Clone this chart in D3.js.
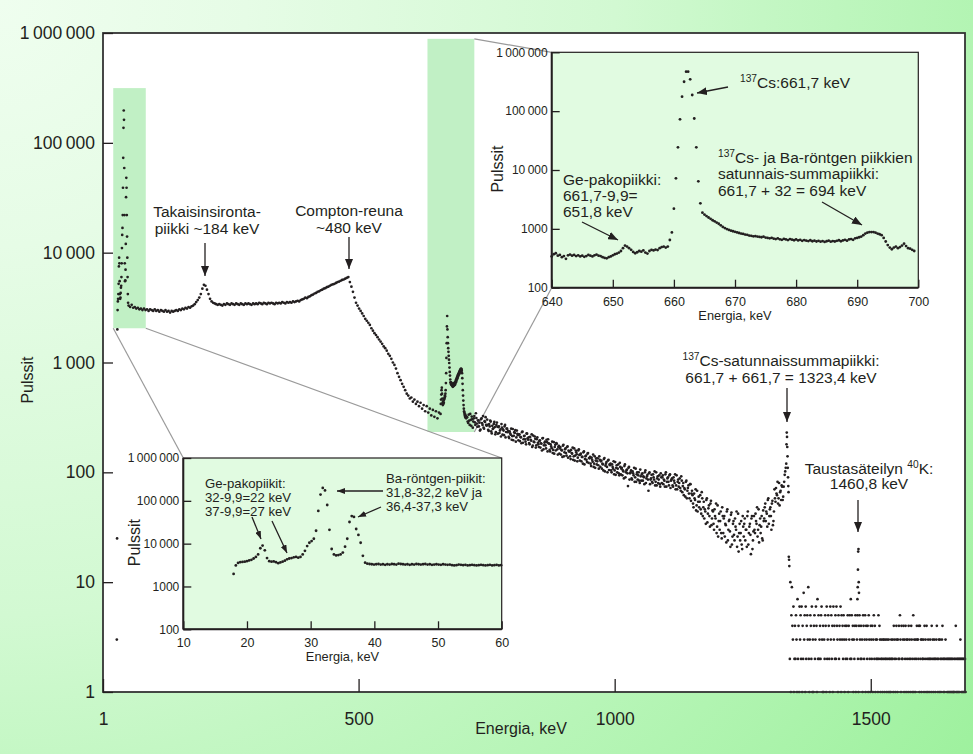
<!DOCTYPE html>
<html>
<head>
<meta charset="utf-8">
<script src="https://cdn.jsdelivr.net/npm/d3@7"></script>
<style>
  body { margin: 0; background: #fff; }
  svg { display: block; font-family: "Liberation Sans", Arial, Helvetica, sans-serif; }
</style>
</head>
<body>
<svg id="chart" width="973" height="754"></svg>
<script>
/* global d3 */

// ---------- main spectrum: energy as it sits on the printed axis (keV), counts per channel ----------
var mainXTicks = [1, 500, 1000, 1500];
var mainYTicks = [1, 10, 100, 1000, 10000, 100000, 1000000];

var lowStart = 28, lowStep = 0.5;
var lowCounts = [3, 25, 2000, 3000, 3600, 3800, 4200, 5200, 7500, 9000,
  8000, 5500, 4200, 3800, 3900, 4300, 4800, 5000, 6000, 8000,
  11000, 14500, 16800, 22000, 39000, 73000, 137000, 197000, 162000, 59000,
  22000, 8000, 5500, 5600, 7000, 12000, 32000, 48000, 39000, 22000,
  14000, 9000, 6000, 4200, 3500];

var plateauStart = 51, plateauStep = 3;
var plateauCounts = [3300, 3200, 3350, 3150, 3200, 3100, 3150, 3050, 3100, 3000,
  3100, 3000, 3050, 2950, 3050, 3000, 2950, 3050, 2950, 3000,
  2900, 3000, 2950, 2900, 3000, 2900, 2950, 2850, 2950, 2900,
  2950, 3000, 2950, 3050, 3000, 3100, 3050, 3150, 3100, 3200,
  3150, 3250, 3300, 3400, 3550, 3700, 3900, 4200, 4700, 5100,
  5000, 4600, 4200, 3800, 3600, 3500, 3450, 3400, 3350, 3400,
  3350, 3300, 3400, 3350, 3450, 3400, 3350, 3450, 3400, 3350,
  3450, 3400, 3350, 3450, 3400, 3350, 3450, 3400, 3450, 3400,
  3350, 3450, 3400, 3450, 3400, 3500, 3450, 3400, 3500, 3450,
  3400, 3500, 3450, 3500, 3450, 3400, 3500, 3450, 3500, 3450,
  3550, 3500, 3450, 3550, 3500, 3550, 3500, 3600, 3550, 3600,
  3650, 3600, 3700, 3750, 3800, 3900, 3850, 3950, 4000, 4100,
  4150, 4250, 4300, 4400, 4450, 4550, 4600, 4700, 4750, 4850,
  4900, 5000, 5100, 5150, 5200, 5300, 5400, 5450, 5550, 5650,
  5700, 5800, 5900, 6000];

var edgeStart = 483, edgeStep = 3;
var edgeCounts = [5400, 4900, 4400, 3900, 3500, 3300, 3100, 2950, 2800, 2650,
  2500, 2400, 2300, 2200, 2050, 1950, 1850, 1780, 1700, 1620,
  1550, 1480, 1400, 1350, 1280, 1200, 1150, 1080, 1000, 950,
  880, 800, 740, 690, 640, 600, 560, 520, 500, 470,
  480, 440, 460, 420, 440, 400, 430, 380, 410, 360,
  400, 350, 380, 330, 370, 320, 360, 310, 350];

var peakStart = 660, peakStep = 0.5;
var peakCounts = [340, 420, 460, 510, 560, 590, 520, 470, 430, 410,
  440, 420, 450, 430, 460, 470, 480, 500, 490, 520,
  560, 650, 800, 1100, 1500, 2130, 2650, 2000, 1700, 1500,
  1350, 1250, 1150, 1060, 990, 900, 820, 760, 700, 660,
  640, 660, 630, 650, 620, 640, 610, 630, 600, 620,
  640, 610, 630, 650, 620, 640, 660, 630, 650, 680,
  660, 700, 680, 720, 700, 740, 720, 760, 740, 780,
  760, 800, 780, 820, 800, 840, 820, 860, 840, 860,
  880, 850, 870, 840, 800, 720, 640, 560, 500, 450,
  410, 380, 360, 350, 340, 330, 320, 335, 315, 325,
  310];

// noisy continuum, even and odd channels
var bandStart = 712, bandStep = 2;
var bandCounts = [318, 282, 296, 340, 265, 305, 290, 325, 270, 312,
  260, 298, 284, 245, 310, 270, 255, 292, 318, 266,
  270, 238, 262, 290, 226, 248, 276, 258, 232, 284,
  225, 262, 240, 212, 255, 246, 218, 270, 233, 250,
  238, 205, 226, 250, 214, 196, 232, 242, 208, 224,
  196, 222, 210, 184, 235, 200, 215, 190, 226, 204,
  208, 180, 198, 222, 175, 190, 212, 168, 200, 186,
  170, 196, 184, 158, 205, 176, 190, 165, 188, 200,
  182, 155, 172, 190, 160, 148, 178, 185, 162, 170,
  148, 170, 160, 138, 178, 152, 165, 142, 172, 158,
  155, 132, 150, 168, 140, 128, 158, 146, 136, 162,
  128, 148, 138, 120, 155, 132, 142, 124, 150, 135,
  138, 114, 130, 145, 120, 110, 134, 126, 116, 140,
  112, 128, 120, 104, 135, 115, 124, 100, 130, 118,
  120, 100, 112, 126, 104, 95, 116, 108, 98, 122,
  96, 110, 104, 88, 118, 100, 106, 75, 112, 98,
  104, 86, 98, 110, 90, 82, 100, 94, 84, 106,
  84, 98, 92, 78, 104, 88, 95, 68, 100, 86,
  95, 80, 90, 102, 82, 76, 92, 86, 78, 98,
  80, 94, 86, 74, 100, 82, 90, 76, 96, 84,
  88, 74, 84, 96, 76, 70, 86, 80, 72, 92,
  66, 80, 72, 60, 84, 68, 76, 58, 78, 64,
  62, 48, 58, 70, 50, 44, 60, 54, 46, 66,
  40, 54, 46, 34, 58, 42, 50, 32, 55, 38,
  44, 30, 40, 52, 32, 26, 42, 36, 28, 48,
  28, 40, 34, 23, 46, 30, 37, 21, 43, 26,
  36, 24, 32, 44, 26, 19, 34, 28, 22, 40,
  26, 38, 30, 21, 44, 28, 34, 18, 40, 24,
  40, 28, 36, 48, 30, 23, 38, 32, 25, 45,
  38, 52, 44, 32, 58, 40, 48, 30, 55, 36,
  70, 54, 64, 82, 58, 50, 68, 76, 56, 74,
  95, 110];
var bandOddStart = 713;
var bandOddCounts = [290, 335, 270, 300, 322, 255, 310, 285, 345, 278,
  296, 262, 240, 305, 280, 325, 250, 288, 270, 302,
  244, 275, 296, 236, 265, 252, 288, 222, 270, 260,
  258, 228, 246, 275, 220, 240, 262, 208, 250, 232,
  210, 236, 220, 198, 248, 215, 228, 190, 240, 218,
  220, 192, 208, 232, 186, 214, 200, 180, 225, 198,
  185, 210, 194, 170, 216, 188, 202, 176, 208, 180,
  192, 168, 182, 204, 162, 186, 176, 198, 155, 184,
  160, 180, 166, 150, 188, 170, 158, 182, 145, 174,
  165, 145, 158, 175, 140, 162, 150, 170, 136, 155,
  140, 160, 148, 130, 165, 142, 152, 126, 158, 144,
  145, 126, 138, 152, 118, 140, 130, 148, 122, 134,
  120, 136, 125, 112, 140, 128, 118, 134, 108, 130,
  126, 108, 118, 132, 102, 120, 112, 128, 105, 116,
  104, 118, 108, 96, 124, 110, 100, 118, 94, 112,
  108, 94, 102, 114, 90, 104, 98, 110, 86, 100,
  88, 102, 94, 82, 108, 96, 86, 100, 80, 92,
  96, 84, 90, 100, 80, 92, 86, 98, 78, 88,
  82, 96, 86, 76, 100, 88, 80, 94, 74, 90,
  90, 78, 84, 96, 74, 88, 82, 94, 72, 86,
  76, 90, 80, 70, 94, 82, 74, 88, 68, 84,
  75, 62, 70, 82, 58, 72, 64, 78, 55, 68,
  52, 64, 56, 45, 68, 54, 48, 62, 42, 58,
  48, 38, 44, 56, 35, 47, 40, 52, 33, 45,
  34, 46, 38, 28, 50, 36, 30, 44, 25, 40,
  38, 26, 33, 44, 24, 36, 29, 41, 22, 34,
  27, 38, 30, 21, 42, 28, 24, 36, 20, 32,
  34, 24, 30, 40, 22, 32, 27, 38, 20, 29,
  30, 42, 34, 26, 46, 33, 28, 40, 24, 36,
  48, 36, 42, 56, 34, 46, 40, 52, 33, 44,
  58, 72, 62, 52, 80, 66, 56, 74, 60, 82,
  102];

var sumStart = 1335, sumStep = 0.5;
var sumCounts = [120, 180, 230, 210, 170, 140, 110, 90, 75, 66, 17, 16, 14];

// one character per 1 keV channel, base 36, "0" = no counts
var tailStart = 1342, tailStep = 1;
var tailCounts = ["2a15943612", "4253172416", "3526142835", "1624539213", "5426131452",
  "3641725234", "2563141325", "4162354216", "3524163425", "2643152436",
  "1534253142", "3425143527", "2534132451", "4352145324", "2315423514",
  "3241532143", "2413524132", "3215243123", "2132312321", "3213212132",
  "2314231243", "1324253142", "2341324132", "3142312431", "2513213243",
  "3241423132", "2314231421", "3212321423", "1232123421", "2313212342",
  "1212302121", "2121212121", "1212412121", "2123212121", "2121"];

var kStart = 1474, kStep = 0.5;
var kCounts = [7, 9, 13, 19, 20, 10, 8];

// ---------- inset: Ba x-ray region ----------
var baXTicks = [10, 20, 30, 40, 50, 60];
var baYTicks = [100, 1000, 10000, 100000, 1000000];
var baStart = 17.9, baStep = 0.35;
var baCounts = [1960, 3100, 3550, 3700, 3750, 3800, 3900, 4050, 4200, 4500,
  4900, 5600, 7800, 9000, 7000, 4600, 3900, 3800, 3850, 3700,
  3500, 3650, 3800, 4000, 4300, 4500, 4600, 4800, 4900, 4700,
  4900, 5600, 6800, 8800, 10500, 11500, 13000, 20000, 58000, 140000,
  200000, 175000, 80000, 21000, 7500, 5600, 5300, 5400, 5600, 6200,
  8500, 13000, 32000, 44000, 42000, 22000, 16000, 10500, 5200, 3600,
  3400,
  3350, 3300, 3250, 3300, 3350, 3250, 3300, 3200, 3300, 3250,
  3350, 3300, 3250, 3400, 3350, 3300, 3250, 3300, 3200, 3300,
  3250, 3350, 3300, 3250, 3300, 3350, 3250, 3300, 3200, 3250,
  3300, 3250, 3200, 3300, 3250, 3200, 3250, 3150, 3100, 3150,
  3250, 3200, 3150, 3200, 3100, 3150, 3200, 3150, 3100, 3150,
  3200, 3150, 3100, 3150, 3200, 3100, 3150, 3200, 3100, 3150];

// ---------- inset: Cs-137 photopeak ----------
var csXTicks = [640, 650, 660, 670, 680, 690, 700];
var csYTicks = [100, 1000, 10000, 100000, 1000000];
var csStart = 640, csStep = 1 / 3;
var csCounts = [340, 370, 385, 350, 360, 330, 345, 310, 355, 365,
  350, 360, 345, 355, 340, 350, 335, 345, 360, 350,
  340, 355, 365, 350, 345, 330, 320, 315, 330, 340,
  355, 370, 380, 395, 420, 470, 520, 500, 470, 440,
  405, 385, 400, 420, 410, 430, 395, 380, 420, 440,
  430, 445, 435, 470, 490, 500, 480, 500, 646, 870,
  2200, 7230, 24300, 72700, 176000, 316000, 468000, 468000, 347000, 188000,
  75000, 24300, 6430, 2720, 1880, 1750, 1650, 1560, 1480, 1400,
  1340, 1280, 1220, 1150, 1080, 1030, 990, 960, 930, 910,
  890, 870, 850, 830, 820, 800, 790, 770, 760, 745,
  750, 740, 730, 720, 735, 710, 700, 690, 705, 680,
  670, 690, 665, 650, 675, 660, 645, 670, 655, 640,
  660, 635, 650, 625, 645, 630, 620, 640, 615, 630,
  610, 625, 605, 620, 600, 615, 630, 605, 620, 610,
  625, 640, 615, 635, 650, 630, 660, 670, 650, 690,
  700, 720, 740, 780, 830, 860, 880, 880, 880, 860,
  830, 810, 780, 700, 610, 530, 480, 450, 480, 500,
  470, 490, 520, 560, 510, 470, 460, 440, 420];

var ink = "#231f20";
var svg = d3.select("#chart");
var defs = svg.append("defs");

var bg = defs.append("radialGradient").attr("id", "bg")
  .attr("gradientUnits", "userSpaceOnUse").attr("cx", 0).attr("cy", 0).attr("r", 1230);
[[0, "#effeef"], [0.2, "#e6fce6"], [0.5, "#d2f9d2"], [0.62, "#c4f7c4"], [1, "#9ef19e"]]
  .forEach(function(s) { bg.append("stop").attr("offset", s[0]).attr("stop-color", s[1]); });

function marker(id, len, wid) {
  defs.append("marker").attr("id", id)
    .attr("viewBox", "0 0 " + len + " " + wid)
    .attr("refX", len).attr("refY", wid / 2)
    .attr("markerWidth", len).attr("markerHeight", wid)
    .attr("markerUnits", "userSpaceOnUse").attr("orient", "auto")
    .append("path").attr("d", "M0,0L" + len + "," + (wid / 2) + "L0," + wid + "z").attr("fill", ink);
}
marker("head", 10, 8);
marker("headSmall", 8, 6);

function channels(start, step, counts) {
  var out = [];
  counts.forEach(function(c, i) { if (c > 0) out.push({e: start + i * step, c: c}); });
  return out;
}

function fmtGroup(d) {
  return d >= 10000 ? d3.format(",")(d).replace(/,/g, "\u2009") : String(d);
}

function styleAxis(g, size) {
  g.attr("font-family", null).attr("font-size", null);
  g.select(".domain").remove();
  g.selectAll(".tick line").attr("stroke", ink).attr("stroke-width", 1.3);
  g.selectAll(".tick text").attr("fill", ink).attr("font-size", size);
}

function arrow(x1, y1, x2, y2, head) {
  svg.append("line")
    .attr("x1", x1).attr("y1", y1).attr("x2", x2).attr("y2", y2)
    .attr("stroke", ink).attr("stroke-width", 1.3)
    .attr("marker-end", "url(#" + (head || "head") + ")");
}

// lines: strings or arrays of segments; a segment starting with "^" is a superscript
function label(lines, x, y, size, anchor, lh) {
  var t = svg.append("text").attr("x", x).attr("y", y)
    .attr("font-size", size).attr("fill", ink).attr("text-anchor", anchor || "middle");
  var lift = size * 0.38, shift = 0;
  lines.forEach(function(line, i) {
    var segs = Array.isArray(line) ? line : [line];
    segs.forEach(function(s, j) {
      var sup = s.charAt(0) === "^";
      var want = sup ? -lift : 0;
      var ts = t.append("tspan").text(sup ? s.slice(1) : s);
      var dy = want - shift;
      if (j === 0) { ts.attr("x", x); dy += (i === 0 ? 0 : lh); }
      ts.attr("dy", dy);
      if (sup) ts.attr("font-size", size * 0.66);
      shift = want;
    });
  });
  return t;
}

svg.append("rect").attr("width", 973).attr("height", 754).attr("fill", "url(#bg)");

// ---------- main plot ----------
var plot = {left: 103, right: 965, top: 33, bottom: 692};
var x = d3.scaleLinear().domain([1, 1684]).range([plot.left, plot.right]);
var y = d3.scaleLog().domain([1, 1000000]).range([plot.bottom, plot.top]);

svg.append("rect").attr("x", plot.left).attr("y", plot.top)
  .attr("width", plot.right - plot.left).attr("height", plot.bottom - plot.top)
  .attr("fill", "#fff");

// zoom windows, in data units
var baWindow = {e0: 21, e1: 84.5, c0: 2050, c1: 315000};
var csWindow = {e0: 634.5, e1: 726, c0: 233, c1: 885000};

[baWindow, csWindow].forEach(function(w) {
  svg.append("rect")
    .attr("x", x(w.e0)).attr("y", y(w.c1))
    .attr("width", x(w.e1) - x(w.e0)).attr("height", y(w.c0) - y(w.c1))
    .attr("fill", "#c1f0c5");
});

var baBox = {left: 183.3, right: 501.7, top: 458, bottom: 629.3};
var csBox = {left: 551.7, right: 918.3, top: 52.3, bottom: 287.7};

var connectors = [
  [x(baWindow.e0), y(baWindow.c0), baBox.left, baBox.top],
  [x(baWindow.e1), y(baWindow.c0), baBox.right, baBox.top],
  [x(csWindow.e1), y(csWindow.c1), csBox.left, csBox.top],
  [x(csWindow.e1), y(csWindow.c0), csBox.left, csBox.bottom]
];
svg.append("g").selectAll("line").data(connectors).join("line")
  .attr("x1", function(d) { return d[0]; }).attr("y1", function(d) { return d[1]; })
  .attr("x2", function(d) { return d[2]; }).attr("y2", function(d) { return d[3]; })
  .attr("stroke", "#9a9a9a").attr("stroke-width", 1.2);

var tailValues = tailCounts.join("").split("").map(function(ch) { return parseInt(ch, 36); });
var mainPoints = [].concat(
  channels(lowStart, lowStep, lowCounts),
  channels(plateauStart, plateauStep, plateauCounts),
  channels(edgeStart, edgeStep, edgeCounts),
  channels(peakStart, peakStep, peakCounts),
  channels(bandStart, bandStep, bandCounts),
  channels(bandOddStart, bandStep, bandOddCounts),
  channels(sumStart, sumStep, sumCounts),
  channels(tailStart, tailStep, tailValues),
  channels(kStart, kStep, kCounts)
);

svg.append("g").selectAll("circle").data(mainPoints).join("circle")
  .attr("cx", function(d) { return x(d.e); })
  .attr("cy", function(d) { return y(d.c); })
  .attr("r", 1.35).attr("fill", ink);

svg.append("rect").attr("x", plot.left).attr("y", plot.top)
  .attr("width", plot.right - plot.left).attr("height", plot.bottom - plot.top)
  .attr("fill", "none").attr("stroke", "#333").attr("stroke-width", 1.8);

var gy = svg.append("g").attr("transform", "translate(" + plot.left + ",0)")
  .call(d3.axisLeft(y).tickValues(mainYTicks).tickSize(-10).tickSizeOuter(0)
    .tickPadding(8).tickFormat(fmtGroup));
styleAxis(gy, 17.5);
gy.selectAll(".tick text").text(function(d) { return d3.format(",")(d).replace(/,/g, "\u2009"); });

var gx = svg.append("g").attr("transform", "translate(0," + plot.bottom + ")")
  .call(d3.axisBottom(x).tickValues(mainXTicks).tickSize(-13).tickSizeOuter(0)
    .tickPadding(21).tickFormat(d3.format("d")));
styleAxis(gx, 17.5);

svg.append("text").attr("transform", "translate(33,380) rotate(-90)")
  .attr("text-anchor", "middle").attr("font-size", 16).attr("fill", ink).text("Pulssit");
svg.append("text").attr("x", 521).attr("y", 734)
  .attr("text-anchor", "middle").attr("font-size", 16).attr("fill", ink).text("Energia, keV");

// ---------- insets ----------
function inset(box, xDomain, xTicks, yTicks, points, ylabelX) {
  var g = svg.append("g");
  var ix = d3.scaleLinear().domain(xDomain).range([box.left, box.right]);
  var iy = d3.scaleLog().domain([100, 1000000]).range([box.bottom, box.top]);

  g.append("rect").attr("x", box.left).attr("y", box.top)
    .attr("width", box.right - box.left).attr("height", box.bottom - box.top)
    .attr("fill", "#e1fbe1").attr("stroke", ink).attr("stroke-width", 1.2);

  g.append("g").selectAll("circle").data(points).join("circle")
    .attr("cx", function(d) { return ix(d.e); })
    .attr("cy", function(d) { return iy(d.c); })
    .attr("r", 1.4).attr("fill", ink);

  var ax = g.append("g").attr("transform", "translate(0," + box.bottom + ")")
    .call(d3.axisBottom(ix).tickValues(xTicks).tickSize(-8).tickSizeOuter(0).tickPadding(9));
  styleAxis(ax, 12.5);
  var ay = g.append("g").attr("transform", "translate(" + box.left + ",0)")
    .call(d3.axisLeft(iy).tickValues(yTicks).tickSize(-8).tickSizeOuter(0)
      .tickPadding(4).tickFormat(fmtGroup));
  styleAxis(ay, 12);

  g.append("line").attr("x1", box.left).attr("x2", box.left)
    .attr("y1", box.top).attr("y2", box.bottom).attr("stroke", ink).attr("stroke-width", 2);
  g.append("line").attr("x1", box.left).attr("x2", box.right)
    .attr("y1", box.bottom).attr("y2", box.bottom).attr("stroke", ink).attr("stroke-width", 2);

  g.append("text").attr("x", (box.left + box.right) / 2).attr("y", box.bottom + 32)
    .attr("text-anchor", "middle").attr("font-size", 12.8).attr("fill", ink).text("Energia, keV");
  g.append("text")
    .attr("transform", "translate(" + ylabelX + "," + ((box.top + box.bottom) / 2 - 1) + ") rotate(-90)")
    .attr("text-anchor", "middle").attr("font-size", 16).attr("fill", ink).text("Pulssit");
}

inset(baBox, [10, 60], baXTicks, baYTicks, channels(baStart, baStep, baCounts), 140);
inset(csBox, [640, 700], csXTicks, csYTicks, channels(csStart, csStep, csCounts), 503);

// ---------- annotations ----------
label(["Takaisinsironta-", "piikki ~184 keV"], 207, 217, 15.5, "middle", 16.5);
arrow(205, 243, 205, 276);
label(["Compton-reuna", "~480 keV"], 349, 216, 15.5, "middle", 16.5);
arrow(349, 237, 349, 269);
label([["^137", "Cs-satunnaissummapiikki:"], "661,7 + 661,7 = 1323,4 keV"], 781, 365.5, 15.5, "middle", 17);
arrow(787, 388, 787, 422);
label([["Taustasäteilyn ", "^40", "K:"], "1460,8 keV"], 869, 473.5, 15.5, "middle", 15.5);
arrow(858, 500, 858, 532);

label([["^137", "Cs:661,7 keV"]], 740, 87.5, 15.5, "start", 16);
arrow(728, 87, 697, 93);
label([["^137", "Cs- ja Ba-röntgen piikkien"], "satunnais-summapiikki:", "661,7 + 32 = 694 keV"], 718, 162.5, 15.5, "start", 16.8);
arrow(822, 202, 862, 225);
label(["Ge-pakopiikki:", "661,7-9,9=", "651,8 keV"], 563, 184.5, 15.5, "start", 16);
arrow(582, 222, 618, 240);

label(["Ge-pakopiikit:", "32-9,9=22 keV", "37-9,9=27 keV"], 205, 487.5, 13.2, "start", 14);
arrow(252, 517, 261, 539, "headSmall");
arrow(272, 521, 287, 553, "headSmall");
label(["Ba-röntgen-piikit:", "31,8-32,2 keV ja", "36,4-37,3 keV"], 386, 482.5, 13.2, "start", 14);
arrow(383, 491, 337, 491, "headSmall");
arrow(381, 507, 358, 517, "headSmall");
</script>
</body>
</html>
